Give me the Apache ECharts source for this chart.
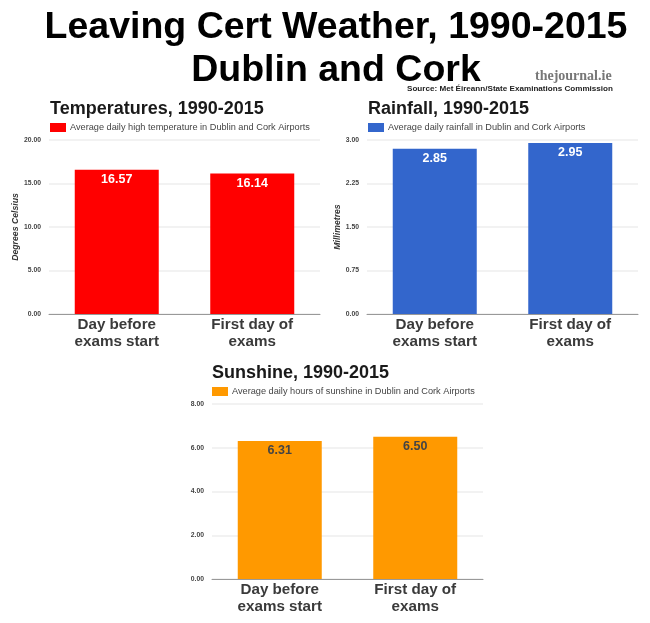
<!DOCTYPE html>
<html>
<head>
<meta charset="utf-8">
<style>
  html, body { margin: 0; padding: 0; background: #fff; }
  #chart { width: 650px; height: 623px; }
</style>
<script src="https://cdn.jsdelivr.net/npm/echarts@6/dist/echarts.min.js"></script>
</head>
<body>
<div id="chart"></div>
<script>
var categories = ['Day before\nexams start', 'First day of\nexams'];
var tempValues = [16.57, 16.14];
var rainValues = [2.85, 2.95];
var sunValues = [6.31, 6.50];
var tempName = 'Average daily high temperature in Dublin and Cork Airports';
var rainName = 'Average daily rainfall in Dublin and Cork Airports';
var sunName = 'Average daily hours of sunshine in Dublin and Cork Airports';

var font = '"Liberation Sans", Arial, sans-serif';
var chart = echarts.init(document.getElementById('chart'));

// one small title
function subTitle(text, left, top) {
  return {
    text: text, left: left, top: top, padding: 0,
    textStyle: { fontFamily: font, fontSize: 18, fontWeight: 'bold', color: '#1a1a1a' }
  };
}

function legendFor(name, left, top) {
  return {
    data: [name], left: left, top: top, padding: 0,
    itemWidth: 16, itemHeight: 9, itemGap: 0,
    icon: 'rect',
    textStyle: { fontFamily: font, fontSize: 9.2, color: '#444', padding: [0, 0, 0, -1] }
  };
}

function xAxisFor(i) {
  return {
    type: 'category', gridIndex: i, data: categories,
    axisTick: { show: false },
    axisLine: { lineStyle: { color: '#999', width: 1 } },
    axisLabel: {
      fontFamily: font, fontSize: 15.2, fontWeight: 'bold', color: '#3a3a3a',
      lineHeight: 16.5, margin: 3, interval: 0
    }
  };
}

function yAxisFor(i, max, step, name, gap) {
  return {
    type: 'value', gridIndex: i, min: 0, max: max, interval: step,
    name: name, nameLocation: 'middle', nameGap: gap, nameRotate: 90,
    nameTextStyle: { fontFamily: font, fontSize: 8.7, fontWeight: 'bold', fontStyle: 'italic', color: '#333' },
    axisLine: { show: false },
    axisTick: { show: false },
    splitLine: { lineStyle: { color: '#eeeeee', width: 1.5 } },
    axisLabel: {
      fontFamily: font, fontSize: 6.8, fontWeight: 'bold', color: '#444', margin: 8,
      formatter: function (v) { return v.toFixed(2); }
    }
  };
}

function barFor(i, name, values, color, labelColor) {
  return {
    name: name, type: 'bar', xAxisIndex: i, yAxisIndex: i,
    data: values, barWidth: 84,
    itemStyle: { color: color },
    label: {
      show: true, position: 'insideTop', distance: 3,
      fontFamily: font, fontSize: 12.5, fontWeight: 'bold', color: labelColor,
      formatter: function (p) { return p.value.toFixed(2); }
    }
  };
}

var option = {
  backgroundColor: '#ffffff',
  animation: false,
  title: [
    {
      text: 'Leaving Cert Weather, 1990-2015\nDublin and Cork',
      left: 336, top: 6, padding: 0, textAlign: 'center',
      textStyle: { fontFamily: font, fontSize: 37.5, fontWeight: 'bold', color: '#000', lineHeight: 43 }
    },
    {
      text: 'thejournal.ie', left: 535, top: 69, padding: 0,
      textStyle: { fontFamily: '"Liberation Serif", serif', fontSize: 14, fontWeight: 'bold', color: '#777' }
    },
    {
      text: 'Source: Met Éireann/State Examinations Commission', left: 407, top: 85, padding: 0,
      textStyle: { fontFamily: font, fontSize: 8.1, fontWeight: 'bold', color: '#222' }
    },
    subTitle('Temperatures, 1990-2015', 50, 100),
    subTitle('Rainfall, 1990-2015', 368, 100),
    subTitle('Sunshine, 1990-2015', 212, 364)
  ],
  legend: [
    legendFor(tempName, 50, 123),
    legendFor(rainName, 368, 123),
    legendFor(sunName, 212, 387)
  ],
  grid: [
    { left: 49, top: 140, width: 271, height: 174 },
    { left: 367, top: 140, width: 271, height: 174 },
    { left: 212, top: 404, width: 271, height: 175 }
  ],
  xAxis: [xAxisFor(0), xAxisFor(1), xAxisFor(2)],
  yAxis: [
    yAxisFor(0, 20, 5, 'Degrees Celsius', 28),
    yAxisFor(1, 3, 0.75, 'Millimetres', 23),
    yAxisFor(2, 8, 2, '', 0)
  ],
  series: [
    barFor(0, tempName, tempValues, '#ff0000', '#ffffff'),
    barFor(1, rainName, rainValues, '#3366cc', '#ffffff'),
    barFor(2, sunName, sunValues, '#ff9900', '#444444')
  ]
};

chart.setOption(option);
</script>
</body>
</html>
